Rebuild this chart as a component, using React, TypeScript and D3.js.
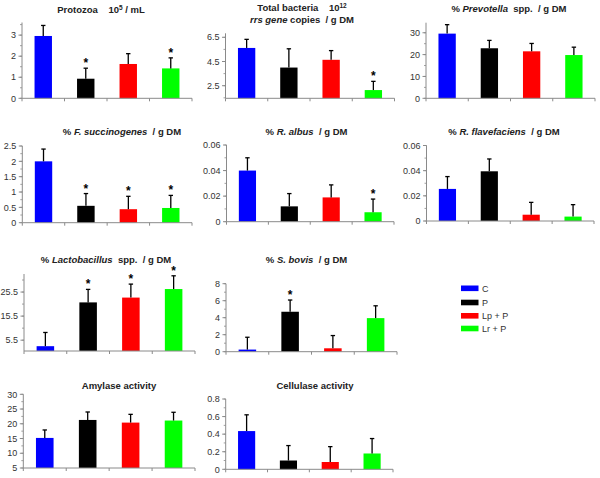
import React from "react";
import * as d3 from "d3";

const groups = ["C", "P", "Lp + P", "Lr + P"];
const groupColors = ["#0000FF", "#000000", "#FF0000", "#00FF00"];

const protozoaMean = [2.96, 0.93, 1.63, 1.42];
const protozoaErr = [0.5, 0.5, 0.49, 0.5];
const protozoaStar = [false, true, false, true];
const protozoaTicks = [0, 1, 2, 3];

const bacteriaMean = [5.62, 4.0, 4.64, 2.14];
const bacteriaErr = [0.71, 1.55, 0.76, 0.72];
const bacteriaStar = [false, false, false, true];
const bacteriaTicks = [2.5, 4.5, 6.5];

const prevotellaMean = [29.6, 22.9, 21.5, 19.8];
const prevotellaErr = [4.1, 3.6, 3.6, 3.6];
const prevotellaStar = [false, false, false, false];
const prevotellaTicks = [0, 10, 20, 30];

const fsuccMean = [2.0, 0.55, 0.44, 0.48];
const fsuccErr = [0.4, 0.4, 0.42, 0.41];
const fsuccStar = [false, true, true, true];
const fsuccTicks = [0, 0.5, 1, 1.5, 2, 2.5];

const ralbusMean = [0.04, 0.012, 0.019, 0.0074];
const ralbusErr = [0.01, 0.01, 0.0098, 0.0103];
const ralbusStar = [false, false, false, true];
const ralbusTicks = [0, 0.02, 0.04, 0.06];

const rflavMean = [0.0255, 0.0395, 0.005, 0.0035];
const rflavErr = [0.0098, 0.0098, 0.0098, 0.0095];
const rflavStar = [false, false, false, false];
const rflavTicks = [0, 0.02, 0.04, 0.06];

const lactoMean = [3.0, 21.2, 23.2, 26.75];
const lactoErr = [5.7, 5.4, 5.6, 5.5];
const lactoStar = [false, true, true, true];
const lactoTicks = [5.5, 15.5, 25.5];

const sbovisMean = [0.25, 4.7, 0.4, 3.95];
const sbovisErr = [1.45, 1.38, 1.5, 1.45];
const sbovisStar = [false, true, false, false];
const sbovisTicks = [0, 2, 4, 6, 8];

const amylaseMean = [15.2, 21.3, 20.4, 21.1];
const amylaseErr = [2.7, 2.7, 2.8, 2.8];
const amylaseStar = [false, false, false, false];
const amylaseTicks = [5, 10, 15, 20, 25, 30];

const cellulaseMean = [0.435, 0.1, 0.083, 0.18];
const cellulaseErr = [0.185, 0.17, 0.175, 0.17];
const cellulaseStar = [false, false, false, false];
const cellulaseTicks = [0, 0.2, 0.4, 0.6, 0.8];

type Seg = { t: string; i?: boolean; sup?: boolean };

type Panel = {
  title: Seg[][];
  titleX: number;
  titleY: number;
  left: number;
  right: number;
  top: number;
  bottom: number;
  domain: [number, number];
  ticks: number[];
  minorStep: number;
  mean: number[];
  err: number[];
  star: boolean[];
};

const panels: Panel[] = [
  {
    title: [[{ t: "Protozoa    10" }, { t: "5", sup: true }, { t: " / mL" }]],
    titleX: 101, titleY: 13,
    left: 22, right: 192, top: 22.5, bottom: 98.3,
    domain: [0, 3.6], ticks: protozoaTicks, minorStep: 0.5,
    mean: protozoaMean, err: protozoaErr, star: protozoaStar,
  },
  {
    title: [
      [{ t: "Total bacteria    10" }, { t: "12", sup: true }],
      [{ t: "rrs gene", i: true }, { t: " copies  / g DM" }],
    ],
    titleX: 302, titleY: 11,
    left: 225.5, right: 394.5, top: 33.3, bottom: 98.3,
    domain: [1.46, 6.83], ticks: bacteriaTicks, minorStep: 1,
    mean: bacteriaMean, err: bacteriaErr, star: bacteriaStar,
  },
  {
    title: [[{ t: "% " }, { t: "Prevotella", i: true }, { t: "  spp.  / g DM" }]],
    titleX: 509, titleY: 12,
    left: 426, right: 595, top: 22.7, bottom: 98.3,
    domain: [0, 34.6], ticks: prevotellaTicks, minorStep: 5,
    mean: prevotellaMean, err: prevotellaErr, star: prevotellaStar,
  },
  {
    title: [[{ t: "% " }, { t: "F. succinogenes", i: true }, { t: "  / g DM" }]],
    titleX: 122, titleY: 135,
    left: 22.3, right: 192, top: 146, bottom: 222.7,
    domain: [0, 2.5], ticks: fsuccTicks, minorStep: 0.25,
    mean: fsuccMean, err: fsuccErr, star: fsuccStar,
  },
  {
    title: [[{ t: "% " }, { t: "R. albus", i: true }, { t: "  / g DM" }]],
    titleX: 306.5, titleY: 135,
    left: 226.5, right: 394, top: 145, bottom: 221.7,
    domain: [0, 0.06], ticks: ralbusTicks, minorStep: 0.01,
    mean: ralbusMean, err: ralbusErr, star: ralbusStar,
  },
  {
    title: [[{ t: "% " }, { t: "R. flavefaciens", i: true }, { t: "  / g DM" }]],
    titleX: 504, titleY: 135,
    left: 426.5, right: 594, top: 145.5, bottom: 221,
    domain: [0, 0.06], ticks: rflavTicks, minorStep: 0.01,
    mean: rflavMean, err: rflavErr, star: rflavStar,
  },
  {
    title: [[{ t: "% " }, { t: "Lactobacillus", i: true }, { t: "  spp.  / g DM" }]],
    titleX: 106, titleY: 263,
    left: 24, right: 195, top: 274, bottom: 351,
    domain: [1, 33], ticks: lactoTicks, minorStep: 5,
    mean: lactoMean, err: lactoErr, star: lactoStar,
  },
  {
    title: [[{ t: "% " }, { t: "S. bovis", i: true }, { t: "  / g DM" }]],
    titleX: 306.5, titleY: 263,
    left: 226, right: 397, top: 283.7, bottom: 351.7,
    domain: [0, 8], ticks: sbovisTicks, minorStep: 1,
    mean: sbovisMean, err: sbovisErr, star: sbovisStar,
  },
  {
    title: [[{ t: "Amylase activity" }]],
    titleX: 119, titleY: 389,
    left: 23.3, right: 195, top: 394.3, bottom: 468,
    domain: [5, 30], ticks: amylaseTicks, minorStep: 2.5,
    mean: amylaseMean, err: amylaseErr, star: amylaseStar,
  },
  {
    title: [[{ t: "Cellulase activity" }]],
    titleX: 315, titleY: 389,
    left: 225.7, right: 393, top: 399, bottom: 469.3,
    domain: [0, 0.8], ticks: cellulaseTicks, minorStep: 0.1,
    mean: cellulaseMean, err: cellulaseErr, star: cellulaseStar,
  },
];

const FONT = "'Liberation Sans', Arial, Helvetica, sans-serif";
const AXIS = "#8a8a8a";

function fmt(v: number) {
  return String(+v.toFixed(4));
}

function PanelView({ p }: { p: Panel }) {
  const x = d3.scaleBand<string>().domain(groups).range([p.left, p.right]).paddingInner(0).paddingOuter(0);
  const y = d3.scaleLinear().domain(p.domain).range([p.bottom, p.top]);
  const bw = x.bandwidth() * 0.41;
  const minorTicks = d3
    .range(
      Math.ceil((p.domain[0] - p.ticks[0]) / p.minorStep - 1e-9),
      Math.floor((p.domain[1] - p.ticks[0]) / p.minorStep + 1e-9) + 1
    )
    .map((k) => p.ticks[0] + k * p.minorStep)
    .filter((v) => v >= p.domain[0] - 1e-9 && v <= p.domain[1] + 1e-9);
  const boundaries = groups.map((g) => x(g) as number).concat([p.right]);
  return (
    <g>
      <text textAnchor="middle" fontFamily={FONT} fontWeight="bold" fontSize={9.5} fill="#222" style={{ whiteSpace: "pre" }}>
        {p.title.map((line, li) => (
          <tspan key={li} x={p.titleX} y={p.titleY + li * 12} fontWeight="bold">
            {line.map((s, si) => (
              <tspan
                key={si}
                fontWeight="bold"
                fontStyle={s.i ? "italic" : "normal"}
                fontSize={s.sup ? 6.5 : 9.5}
                baselineShift={s.sup ? "super" : undefined}
              >
                {s.t}
              </tspan>
            ))}
          </tspan>
        ))}
      </text>
      {p.mean.map((m, i) => {
        const cx = (x(groups[i]) as number) + x.bandwidth() / 2;
        const yTop = y(m);
        const yErr = y(m + p.err[i]);
        return (
          <g key={i}>
            <rect x={cx - bw / 2} y={yTop} width={bw} height={p.bottom - yTop} fill={groupColors[i]} />
            <line x1={cx} x2={cx} y1={yTop} y2={yErr} stroke="#000" strokeWidth={1.3} />
            <line x1={cx - 2.2} x2={cx + 2.2} y1={yErr} y2={yErr} stroke="#000" strokeWidth={1.3} />
            {p.star[i] && (
              <text x={cx} y={yErr - 1} textAnchor="middle" fontFamily={FONT} fontWeight="bold" fontSize={12} fill="#000">
                *
              </text>
            )}
          </g>
        );
      })}
      <line x1={p.left} x2={p.left} y1={p.top} y2={p.bottom} stroke={AXIS} strokeWidth={1} />
      <line x1={p.left} x2={p.right} y1={p.bottom} y2={p.bottom} stroke={AXIS} strokeWidth={1} />
      {minorTicks.map((v, i) => (
        <line key={"m" + i} x1={p.left - 2} x2={p.left} y1={y(v)} y2={y(v)} stroke={AXIS} strokeWidth={0.8} />
      ))}
      {p.ticks.map((v, i) => (
        <g key={"t" + i}>
          <line x1={p.left - 3.5} x2={p.left} y1={y(v)} y2={y(v)} stroke={AXIS} strokeWidth={1} />
          <text x={p.left - 6} y={y(v) + 3.2} textAnchor="end" fontFamily={FONT} fontSize={9} fill="#333">
            {fmt(v)}
          </text>
        </g>
      ))}
      {boundaries.map((bx, i) => (
        <line key={"b" + i} x1={bx} x2={bx} y1={p.bottom} y2={p.bottom + 3} stroke={AXIS} strokeWidth={1} />
      ))}
    </g>
  );
}

const legendX = 461;
const legendY = [288.3, 302.5, 315.8, 328.5];

export default function App() {
  return (
    <svg
      width={600}
      height={478}
      style={{ position: "absolute", left: 0, top: 0, background: "#fff", display: "block" }}
    >
      <rect x={0} y={0} width={600} height={478} fill="#fff" />
      {panels.map((p, i) => (
        <PanelView key={i} p={p} />
      ))}
      {groups.map((g, i) => (
        <g key={g}>
          <rect x={legendX} y={legendY[i] - 2.8} width={17.5} height={5.6} fill={groupColors[i]} />
          <text x={legendX + 21} y={legendY[i] + 3.2} fontFamily={FONT} fontSize={9} fill="#333">
            {g}
          </text>
        </g>
      ))}
    </svg>
  );
}
